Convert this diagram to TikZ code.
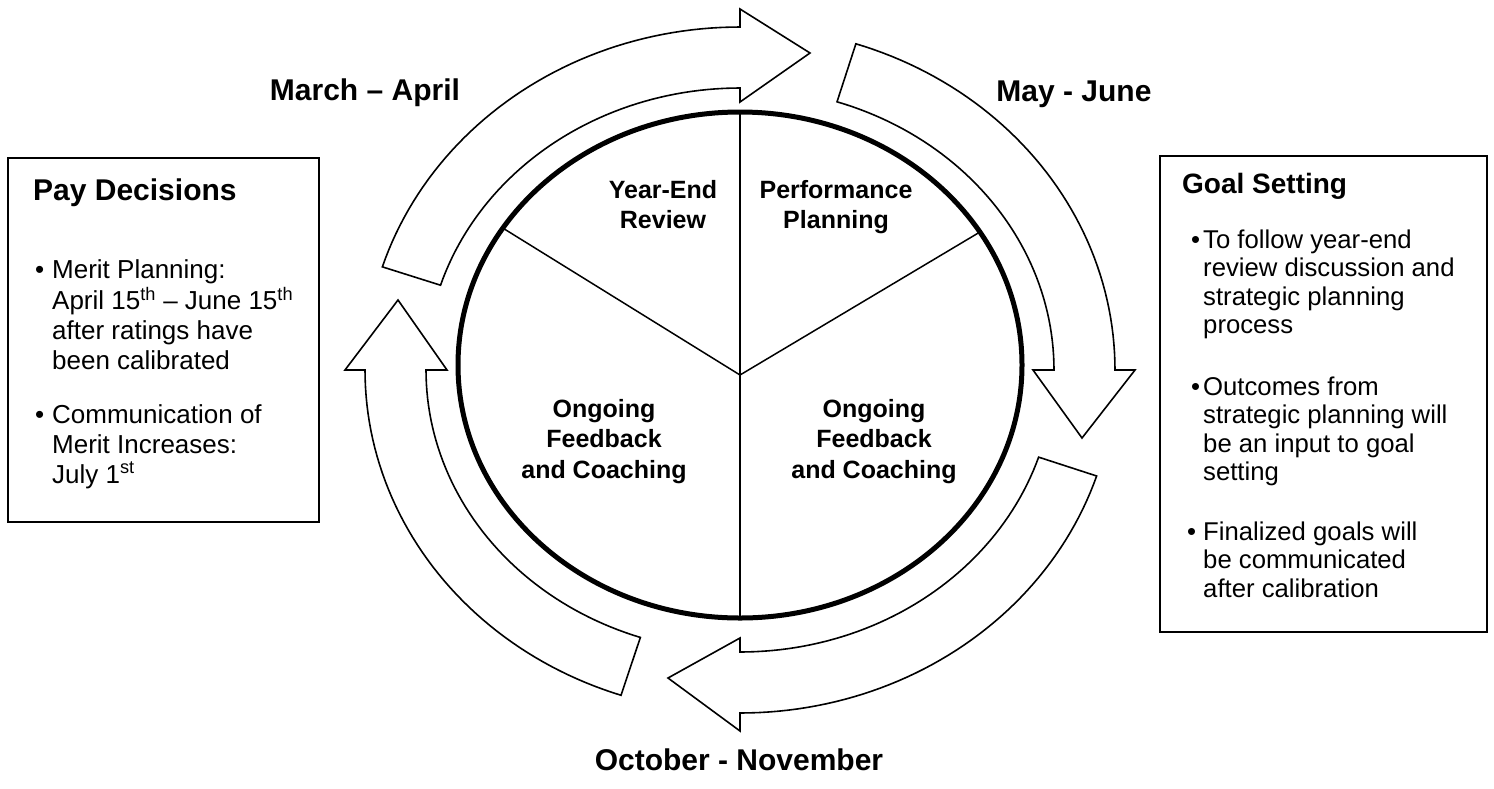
\documentclass[tikz,border=0pt]{standalone}
\usepackage{fontspec}
\setmainfont{Liberation Sans}
\usetikzlibrary{shapes.geometric}
\newcommand{\tcol}[2]{\begin{tabular}[t]{@{}#1@{}}#2\end{tabular}}
\newcommand{\bul}[1]{\llap{\textbullet\hspace{#1}}}
\begin{document}
\begin{tikzpicture}[x=1pt,y=-1pt,
  shaft/.style={draw=black, line width=1.6pt, line join=miter, fill=white},
  spoke/.style={draw=black, line width=1.5pt},
  box/.style={draw=black, line width=1.6pt, rectangle, inner sep=0pt, outer sep=0pt, anchor=north west},
  month/.style={font=\fontsize{30}{36}\selectfont\bfseries, inner sep=0pt, anchor=base},
  inlab/.style={font=\fontsize{25}{30}\selectfont\bfseries, inner sep=0pt, anchor=base},
  inlabb/.style={font=\fontsize{25}{30.5}\selectfont\bfseries, inner sep=0pt, anchor=base},
  paytitle/.style={font=\fontsize{30}{36}\selectfont\bfseries, inner sep=0pt, anchor=base west},
  paybody/.style={font=\fontsize{26}{30}\selectfont, inner sep=0pt, anchor=base west},
  goaltitle/.style={font=\fontsize{28}{34}\selectfont\bfseries, inner sep=0pt, anchor=base west},
  goalbody/.style={font=\fontsize{25.7}{28.5}\selectfont, inner sep=0pt, anchor=base west}
]
\useasboundingbox (0,0) rectangle (1494,788);

% cycle arrows (ellipse centre 740,370)
\draw[shaft] plot[domain=197.5:270, samples=50] ({740+375*cos(\x)},{370+343*sin(\x)})
  -- (740,9) -- (810,53) -- (740,102)
  -- plot[domain=270:197.5, samples=50] ({740+314*cos(\x)},{370+282*sin(\x)}) -- cycle;
\draw[shaft] plot[domain=288:360, samples=50] ({740+375*cos(\x)},{370+343*sin(\x)})
  -- (1135,370) -- (1082,438) -- (1033,370)
  -- plot[domain=360:288, samples=50] ({740+314*cos(\x)},{370+282*sin(\x)}) -- cycle;
\draw[shaft] plot[domain=18:90, samples=50] ({740+375*cos(\x)},{370+343*sin(\x)})
  -- (740,731) -- (668,678) -- (740,638)
  -- plot[domain=90:18, samples=50] ({740+314*cos(\x)},{370+282*sin(\x)}) -- cycle;
\draw[shaft] plot[domain=108.5:180, samples=50] ({740+375*cos(\x)},{370+343*sin(\x)})
  -- (345,370) -- (398,300) -- (447,370)
  -- plot[domain=180:108.5, samples=50] ({740+314*cos(\x)},{370+282*sin(\x)}) -- cycle;

% wheel
\node[draw=black, ellipse, line width=5pt, minimum width=564pt, minimum height=506pt,
      inner sep=0pt, outer sep=0pt] (wheel) at (740,365) {};
\coordinate (J) at (740,375);
\draw[spoke] (J) -- (wheel.north);
\draw[spoke] (J) -- (wheel.south);
\draw[spoke] (J) -- (wheel.150.7);
\draw[spoke] (J) -- (wheel.29.5);

% wheel labels
\node[inlab] (ye) at (663,198) {\tcol{c}{Year-End\\Review}};
\node[inlab] (pp) at (836,198) {\tcol{c}{Performance\\Planning}};
\node[inlabb] (ofl) at (604,417) {\tcol{c}{Ongoing\\Feedback\\and Coaching}};
\node[inlabb] (ofr) at (874,417) {\tcol{c}{Ongoing\\Feedback\\and Coaching}};

% month labels
\node[month] (ma) at (365,100) {March \textendash{} April};
\node[month] (mj) at (1074,101) {May - June};
\node[month] (on) at (739,770) {October - November};

% pay decisions box
\node[box, minimum width=311pt, minimum height=364pt] (paybox) at (8,158) {};
\node[paytitle] (payt) at (33,200) {Pay Decisions};
\node[paybody] (pay1) at (52,278) {\tcol{l}{\bul{8pt}Merit Planning:\\
  April 15\textsuperscript{th} \textendash{} June 15\textsuperscript{th}\\
  after ratings have\\ been calibrated}};
\node[paybody] (pay2) at (52,423) {\tcol{l}{\bul{8pt}Communication of\\
  Merit Increases:\\ July 1\textsuperscript{st}}};

% goal setting box
\node[box, minimum width=327pt, minimum height=476pt] (goalbox) at (1160,156) {};
\node[goaltitle] (goalt) at (1182,193) {Goal Setting};
\node[goalbody] (goal1) at (1203,248) {\tcol{l}{\bul{3pt}To follow year-end\\
  review discussion and\\ strategic planning\\ process}};
\node[goalbody] (goal2) at (1203,395) {\tcol{l}{\bul{3pt}Outcomes from\\
  strategic planning will\\ be an input to goal\\ setting}};
\node[goalbody] (goal3) at (1203,540) {\tcol{l}{\bul{7pt}Finalized goals will\\
  be communicated\\ after calibration}};
\end{tikzpicture}
\end{document}
